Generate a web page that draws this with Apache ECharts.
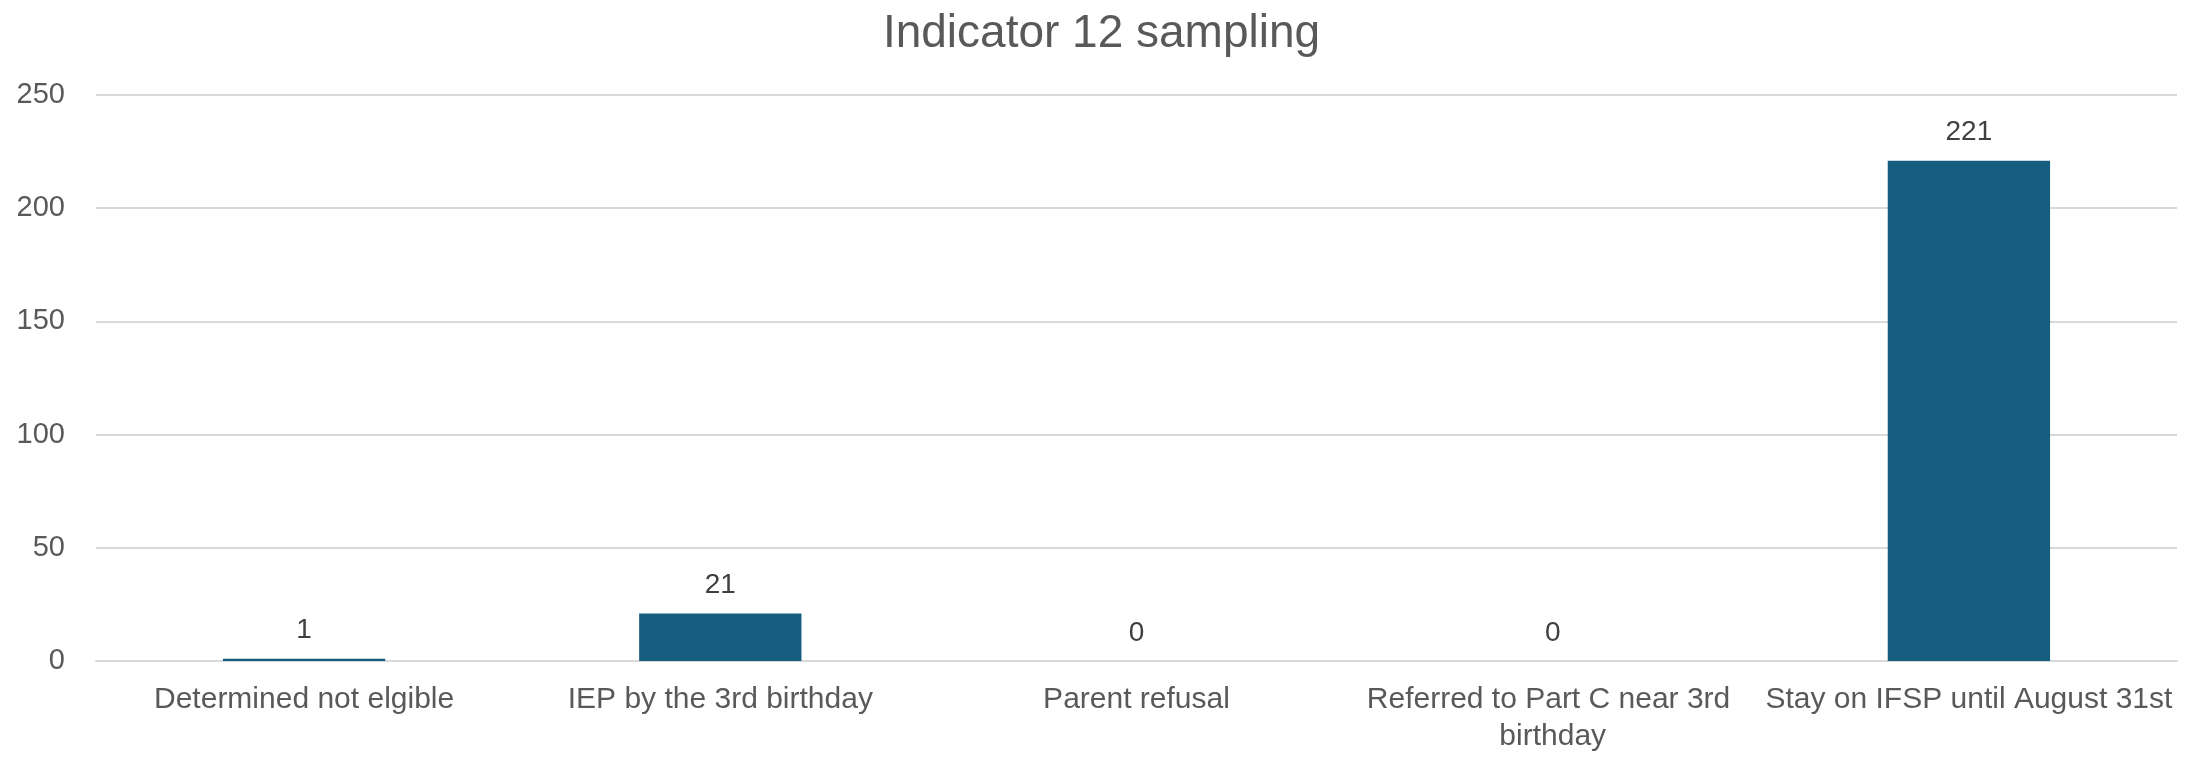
<!DOCTYPE html>
<html><head><meta charset="utf-8">
<script src="https://cdn.jsdelivr.net/npm/echarts@6/dist/echarts.min.js"></script>
<style>html,body{margin:0;padding:0;background:#fff}#c{width:2203px;height:757px}</style>
</head><body><div id="c"></div>
<script>
const titleText = 'Indicator 12 sampling';
const categories = ['Determined not elgible', 'IEP by the 3rd birthday', 'Parent refusal', 'Referred to Part C near 3rd birthday', 'Stay on IFSP until August 31st'];
const values = [1, 21, 0, 0, 221];
const yTicks = [0, 50, 100, 150, 200, 250];

const chart = echarts.init(document.getElementById('c'));
chart.setOption({
  animation: false,
  backgroundColor: '#fff',
  textStyle: { fontFamily: 'Liberation Sans, Arial, sans-serif' },
  title: {
    text: titleText, left: 'center', top: 6,
    textStyle: { fontSize: 46, fontWeight: 'normal', color: '#595959' }
  },
  grid: { left: 96, right: 26, top: 95, bottom: 96, containLabel: false },
  xAxis: {
    type: 'category', data: categories,
    axisLine: { lineStyle: { color: '#D9D9D9', width: 2 } },
    axisTick: { show: false },
    axisLabel: { color: '#595959', fontSize: 30, margin: 20, width: 416, overflow: 'break', lineHeight: 37, interval: 0 }
  },
  yAxis: {
    type: 'value', min: yTicks[0], max: yTicks[yTicks.length - 1], interval: 50,
    axisLine: { show: false }, axisTick: { show: false },
    axisLabel: { color: '#595959', fontSize: 29, margin: 31 },
    splitLine: { lineStyle: { color: '#D9D9D9', width: 2 } }
  },
  series: [{
    type: 'bar', data: values, barWidth: '39%',
    itemStyle: { color: '#165E80' },
    label: { show: true, position: 'top', distance: 14, color: '#404040', fontSize: 28 }
  }]
});
</script></body></html>
